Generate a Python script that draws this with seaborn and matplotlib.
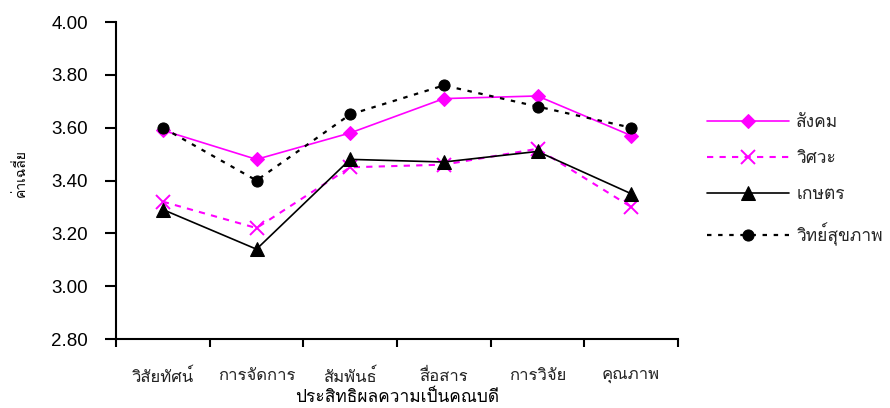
import matplotlib
matplotlib.use("Agg")
import matplotlib.pyplot as plt
import seaborn as sns
import pandas as pd

# Categories on the x axis
categories = ["วิสัยทัศน์", "การจัดการ", "สัมพันธ์", "สื่อสาร", "การวิจัย", "คุณภาพ"]

# Mean scores for each faculty group
social = [3.59, 3.48, 3.58, 3.71, 3.72, 3.57]
engineering = [3.32, 3.22, 3.45, 3.46, 3.52, 3.30]
agriculture = [3.29, 3.14, 3.48, 3.47, 3.51, 3.35]
health_sci = [3.60, 3.40, 3.65, 3.76, 3.68, 3.60]

series_names = ["สังคม", "วิศวะ", "เกษตร", "วิทย์สุขภาพ"]
series_values = [social, engineering, agriculture, health_sci]

y_ticks = [2.80, 3.00, 3.20, 3.40, 3.60, 3.80, 4.00]

rows = []
for name, vals in zip(series_names, series_values):
    for cat, v in zip(categories, vals):
        rows.append({"group": name, "category": cat, "score": v})
df = pd.DataFrame(rows)
df["category"] = pd.Categorical(df["category"], categories=categories, ordered=True)
df["pos"] = df["category"].cat.codes

sns.set_theme(style="white")
plt.rcParams["font.family"] = ["Liberation Sans", "Loma"]

fig = plt.figure(figsize=(8.9, 4.08), dpi=100)
ax = fig.add_axes([116 / 890, 1 - 339 / 408, (678 - 116) / 890, (339 - 22) / 408])

styles = {
    "สังคม": dict(color="#FF00FF", marker="D", markersize=7.5, linewidth=1.2,
                  linestyle="-"),
    "วิศวะ": dict(color="#FF00FF", marker="x", markersize=10, linewidth=1.5,
                  markeredgewidth=1.4, linestyle=(0, (3, 3))),
    "เกษตร": dict(color="black", marker="^", markersize=9.5, linewidth=1.2,
                  linestyle="-"),
    "วิทย์สุขภาพ": dict(color="black", marker="o", markersize=8, linewidth=1.6,
                        linestyle=(0, (2, 3))),
}

for name in series_names:
    st = dict(styles[name])
    sub = df[df["group"] == name]
    sns.lineplot(data=sub, x="pos", y="score", ax=ax, label=name,
                 markeredgecolor=st["color"], **st)

ax.set_xlim(-0.5, len(categories) - 0.5)
ax.set_ylim(y_ticks[0], y_ticks[-1])
ax.set_yticks(y_ticks)
ax.set_yticklabels([f"{t:.2f}" for t in y_ticks], fontsize=13.5, color="black")
ax.set_xticks(range(len(categories)))
ax.set_xticklabels(categories, fontsize=12, color="#222222")
ax.set_xticks([i - 0.5 for i in range(len(categories) + 1)], minor=True)
ax.tick_params(axis="x", which="major", length=0, pad=21)
ax.tick_params(axis="x", which="minor", length=6, width=1.5, color="black",
               direction="out", bottom=True)
ax.tick_params(axis="y", which="major", length=8, width=1.5, color="black",
               direction="out", left=True, pad=12)

for side in ["top", "right"]:
    ax.spines[side].set_visible(False)
for side in ["left", "bottom"]:
    ax.spines[side].set_color("black")
    ax.spines[side].set_linewidth(1.5)

ax.set_xlabel("ประสิทธิผลความเป็นคณบดี", fontsize=12.5, color="black")
ax.xaxis.set_label_coords(0.5, -(397 - 339) / 317, transform=ax.transAxes)
ax.xaxis.label.set_va("center")
ax.set_ylabel("ค่าเฉลี่ย", fontsize=10, color="black")
ax.yaxis.set_label_coords(-(116 - 20) / 562, 1 - (173 - 22) / 317,
                          transform=ax.transAxes)
ax.yaxis.label.set_va("center")
ax.grid(False)

ax.get_legend().remove()
handles, labels = ax.get_legend_handles_labels()
fig.legend(handles, labels, loc="center left",
           bbox_to_anchor=(707 / 890, 1 - 180.5 / 408),
           frameon=False, fontsize=12.5, handlelength=4.7, handletextpad=0.45,
           labelspacing=1.2, borderpad=0, borderaxespad=0)

fig.savefig("out.png", dpi=100, facecolor="white")
